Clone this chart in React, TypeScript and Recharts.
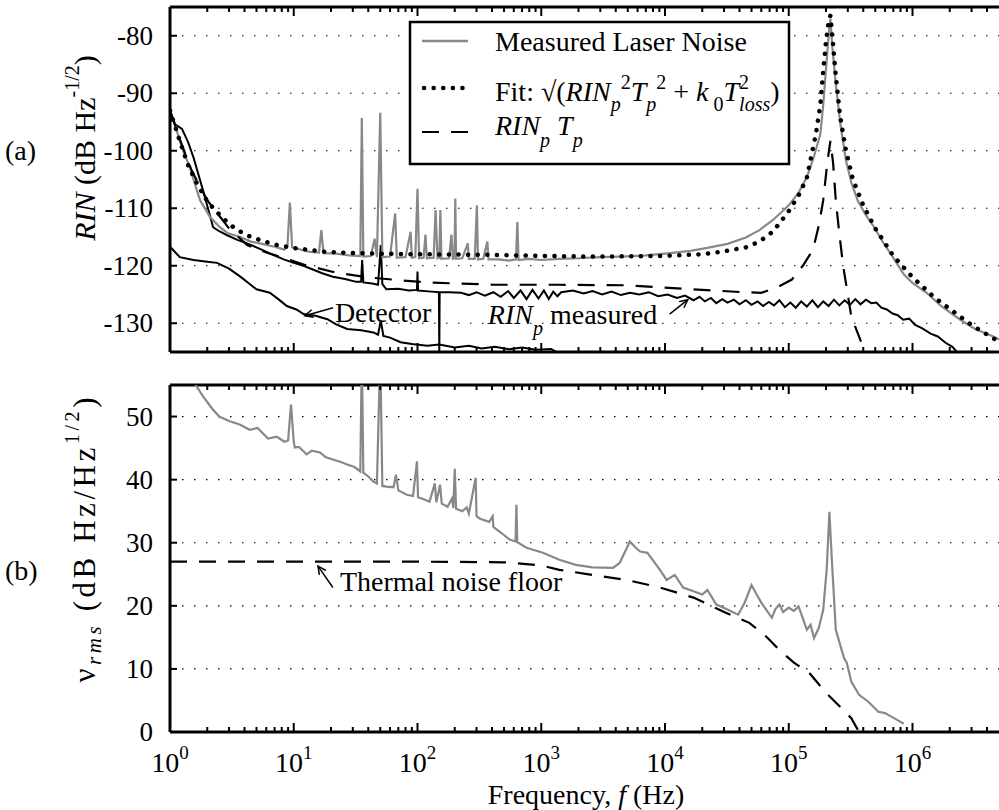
import React from "react";
import {
  LineChart,
  Line,
  XAxis,
  YAxis,
  CartesianGrid,
  ReferenceLine,
  ReferenceDot,
} from "recharts";

const FONT = '"Liberation Serif", "Times New Roman", serif';

// frequency ticks: decades and in-between multipliers
const decades = [1, 10, 100, 1e3, 1e4, 1e5, 1e6];
const multipliers = [1, 2, 3, 4, 5, 6, 7, 8, 9];
const xTicks = decades
  .flatMap((d) => multipliers.map((m) => m * d))
  .filter((v) => v < 4.5e6);

const rinTicks = [-130, -120, -110, -100, -90, -80];
const nuTicks = [0, 10, 20, 30, 40, 50];

// panel (a): [frequency Hz, RIN dB]
const laserNoise: [number, number][] = [
  [1, -93], [1.1, -95.5], [1.2, -98.3], [1.3, -100.5], [1.45, -102.9], [1.6, -106],
  [1.75, -108.6], [2.1, -111.5], [2.5, -113.2], [2.9, -114.3], [3.7, -115.0], [4.5, -115.8],
  [5.3, -116.1], [7.0, -116.7], [8.4, -117.2], [8.9, -116.5], [9.3, -109.0], [9.7, -116.8],
  [10.5, -117.0], [13.5, -117.6], [16.0, -117.7], [16.7, -113.8], [17.4, -117.8], [22, -117.9],
  [28, -118.2], [34.5, -118.3], [35.5, -94.3], [36.5, -118.4], [42, -118.3], [45, -115.3],
  [47, -118.5], [50, -93.4], [52, -118.5], [60, -118.4], [66, -110.9], [68, -118.6],
  [80, -118.5], [88, -114.1], [90, -118.6], [96, -118.5], [100, -106.6], [103, -118.7],
  [112, -118.6], [116, -114.6], [119, -118.7], [135, -118.6], [140, -110.3], [145, -118.7],
  [150, -118.6], [153, -110.3], [156, -118.8], [180, -118.7], [188, -114.6], [193, -118.8],
  [199, -118.7], [202, -108.3], [205, -118.8], [230, -118.7], [255, -116.1], [260, -118.8],
  [290, -118.8], [302, -109.5], [308, -118.9], [340, -118.8], [367, -115.8], [375, -118.9],
  [450, -118.9], [550, -119.1], [625, -118.9], [641, -112.4], [655, -119.0], [800, -118.8],
  [1000, -119.0], [1400, -118.8], [2000, -118.7], [3000, -118.5], [4500, -118.4], [7000, -118.2],
  [11000, -117.8], [16000, -117.4], [22000, -116.9], [32000, -116.2], [45000, -115.1], [58000, -113.8],
  [75000, -112.0], [100000, -109.5], [120000, -107.3], [140000, -104.6], [160000, -101], [180000, -97.1],
  [190000, -92], [200000, -85.7], [210000, -80], [217000, -77], [225000, -82], [240000, -88.4],
  [260000, -95], [290000, -101.7], [320000, -105.5], [360000, -108.6], [420000, -111.2], [490000, -113.3],
  [580000, -116.0], [690000, -118.4], [850000, -121.5], [1000000, -123], [1300000, -124.7], [1700000, -127],
  [2400000, -129.3], [3200000, -131], [4400000, -132.2], [5000000, -132.8],
];

const fitCurve: [number, number][] = [
  [1, -93], [1.2, -98.3], [1.4, -102.5], [1.65, -105.7], [2.0, -108.8], [2.4, -110.7],
  [3.0, -112.7], [3.5, -113.8], [4.3, -114.8], [5.3, -115.5], [7.0, -116.3], [9.9, -116.9],
  [14, -117.3], [18.6, -117.6], [30, -117.8], [50, -117.9], [100, -118.0], [400, -118.1],
  [1000, -118.3], [3000, -118.4], [10000, -118.3], [20000, -118.0], [30000, -117.5], [45000, -116.8],
  [58000, -115.8], [75000, -114], [100000, -110.5], [120000, -107.8], [140000, -104.7], [166000, -97],
  [180000, -92], [190000, -86], [200000, -81], [210000, -77.5], [217000, -76.5], [225000, -80],
  [240000, -87], [260000, -94], [290000, -100], [330000, -105], [400000, -109.5], [500000, -113.5],
  [700000, -118.3], [1000000, -122], [1500000, -125.5], [2000000, -127.5], [3000000, -130.3],
  [4400000, -132.5], [5000000, -133.2],
];

const rinPTp: [number, number][] = [
  [1, -93], [1.2, -98], [1.5, -103.5], [2, -108.6], [3, -113.5], [4.2, -116.4],
  [6, -117.7], [8.2, -118.6], [12, -119.8], [22, -121.2], [39, -122], [70, -122.5],
  [118, -122.9], [410, -123.3], [1400, -123.3], [4900, -123.4], [17000, -124.1], [43000, -124.6],
  [60000, -124.7], [80000, -123.8], [106000, -122.4], [130000, -120], [157000, -117.2], [175000, -113],
  [190000, -108.6], [205000, -102], [217000, -98.3], [228000, -102], [240000, -108.6], [255000, -114],
  [275000, -120], [300000, -125], [320000, -128.8], [390000, -133.6], [430000, -136],
];

const rinPMeasured: [number, number][] = [
  [1, -93], [1.1, -95.4], [1.25, -96.2], [1.4, -98.5], [1.55, -101.2], [1.85, -106.9],
  [2.23, -113.3], [2.5, -114.0], [2.9, -114.7], [3.5, -115.5], [4.2, -116.1], [5.5, -117.2],
  [6.8, -118.1], [8.3, -118.9], [10, -119.5], [12, -120.0], [14.4, -120.7], [17, -121.3],
  [20.7, -121.9], [26, -122.3], [32, -122.8], [35, -122.8], [35.7, -119], [36.5, -122.9],
  [43, -123.1], [48, -123.3], [50.5, -116.4], [52, -123.2], [56, -124.1], [70, -124.0],
  [85, -124.3], [99, -124.2], [100, -121], [101, -124.3], [130, -124.5], [149, -124.6],
  [150, -135.5], [151, -124.6], [180, -124.6], [225, -124.7], [260, -125.1], [300, -124.6],
  [350, -125.2], [410, -124.6], [470, -125.4], [540, -124.4], [600, -125.6], [680, -124.3],
  [760, -125.8], [850, -124.2], [950, -125.7], [1050, -124.3], [1150, -125.8], [1250, -124.5],
  [1350, -125.3], [1450, -124.6], [1800, -124.3], [2200, -124.8], [2600, -124.4], [3100, -125.0],
  [3700, -124.5], [4400, -125.1], [5200, -124.7], [6200, -125.0], [7400, -124.6], [8800, -125.3],
  [10500, -125.0], [12500, -125.6], [14500, -125.2], [17000, -126.0], [19000, -125.4], [21000, -126.2],
  [23500, -125.6], [26000, -126.5], [29000, -125.8], [32000, -126.4], [36000, -125.9], [40000, -126.7],
  [45000, -126.0], [50000, -126.8], [56000, -126.2], [62000, -127.0], [69000, -126.3], [76000, -126.9],
  [84000, -126.0], [93000, -127.2], [103000, -126.4], [114000, -127.3], [126000, -126.2], [140000, -127.1],
  [155000, -126.0], [172000, -127.2], [190000, -126.2], [210000, -127.0], [232000, -125.9], [256000, -126.9],
  [283000, -126.0], [312000, -126.8], [345000, -125.8], [380000, -126.7], [420000, -125.9], [465000, -126.5],
  [510000, -126.4], [560000, -127.3], [620000, -127.6], [690000, -128.3], [760000, -128.6], [840000, -129.4],
  [940000, -129.2], [1050000, -130.3], [1200000, -130.9], [1400000, -131.8], [1600000, -132.3],
  [1850000, -133.4], [2100000, -134.1], [2400000, -135.5],
];

const detector: [number, number][] = [
  [1, -116.7], [1.2, -118.5], [1.55, -119], [2.0, -119.3], [2.4, -119.5], [3.0, -120.5],
  [3.7, -121.9], [4.3, -123], [5.0, -124.1], [6.4, -124.7], [7.5, -125.8], [8.8, -127.0],
  [10.5, -127.6], [12, -128.4], [15, -128.7], [18.7, -129.3], [22, -130.2], [27, -131.0],
  [35, -131.2], [44, -131.6], [48, -132], [50.5, -129.5], [53, -132.2], [60, -132.5],
  [73, -133.3], [90, -133.6], [120, -133.9], [150, -133.7], [200, -134.2], [260, -133.9],
  [330, -134.4], [420, -134.1], [550, -134.5], [700, -134.2], [900, -134.6], [1200, -134.5],
  [1500, -135.6],
];

// panel (b): [frequency Hz, nu_rms dB]
const nuMeasured: [number, number][] = [
  [1, 60], [1.3, 57.5], [1.59, 55.2], [1.85, 53.2], [2.2, 51.2], [2.5, 50],
  [3.0, 49.3], [3.7, 48.7], [4.4, 47.9], [5.1, 48.2], [6.2, 46.5], [7.3, 46.8],
  [8.4, 46.0], [9.0, 46.2], [9.5, 51.9], [10.0, 46.0], [10.2, 45.1], [11, 45.2],
  [12.7, 44.0], [14, 44.6], [16.3, 44.3], [18, 43.6], [20.7, 43.2], [24, 42.8],
  [27, 42.4], [31, 42.0], [34.5, 41.3], [35.5, 60], [36.5, 41.1], [40, 40.5],
  [44, 39.7], [47, 39.4], [50, 60], [52, 39.0], [56, 38.9], [64, 38.8],
  [67, 40.8], [70, 38.3], [82, 37.6], [92, 37.4], [99, 42.9], [101, 37.2],
  [115, 36.8], [125, 36.5], [138, 39.4], [142, 36.4], [152, 39.2], [157, 36.2],
  [175, 35.7], [190, 37.0], [195, 35.5], [200, 41.7], [205, 35.4], [230, 35.0],
  [250, 35.6], [260, 34.6], [295, 40.3], [300, 34.2], [320, 33.8], [380, 33.3],
  [405, 34.2], [410, 32.5], [480, 31.5], [555, 30.5], [620, 30.2], [630, 36],
  [640, 30.1], [760, 29.2], [1030, 28.4], [1400, 27.3], [1900, 26.5], [2600, 26.1],
  [3800, 26], [4300, 26.8], [5200, 30.2], [5800, 29.2], [6300, 28.6], [7200, 28.4],
  [8000, 27.2], [9100, 25.7], [10300, 24.1], [12000, 24.9], [14000, 22.9], [17000, 22.3],
  [20000, 21.8], [22000, 22.5], [26000, 20.2], [32000, 19.4], [39000, 18.6], [44000, 20.5],
  [50000, 23.3], [55000, 21.8], [60000, 20.5], [73000, 18.1], [78000, 19.5], [84000, 20.2],
  [90000, 19.0], [100000, 19.7], [110000, 19.2], [120000, 19.9], [130000, 18.0], [140000, 16.2],
  [150000, 17.0], [160000, 14.9], [175000, 16.5], [190000, 19.4], [203000, 26], [213000, 34.9],
  [222000, 28], [240000, 16.2], [280000, 11.7], [294000, 11], [320000, 8], [370000, 5.9],
  [440000, 4.8], [530000, 3.2], [600000, 3.0], [680000, 2.4], [800000, 1.6], [850000, 1.3],
];

const thermalFloor: [number, number][] = [
  [1, 27], [100, 27], [500, 26.9], [1000, 26.4], [1400, 25.7], [2600, 24.9],
  [4900, 24.1], [9100, 22.9], [17000, 21.3], [31000, 18.9], [48000, 17.3], [66000, 15.1],
  [84000, 13], [110000, 11], [146000, 9.4], [200000, 6.2], [260000, 4], [320000, 2.2],
  [370000, 0],
];

const pts = (a: [number, number][]) => a.map(([f, v]) => ({ f, v }));

const TOP_PLOT_H = 345;
const BOT_PLOT_H = 347;

const isMajor = (v: number) => Math.abs(Math.log10(v) - Math.round(Math.log10(v))) < 1e-6;

const tickLines = (x: number, y: number, plotH: number, v: number) => {
  const len = isMajor(v) ? 9 : 5;
  return (
    <>
      <line x1={x} x2={x} y1={y} y2={y - len} stroke="#000" strokeWidth={2} />
      <line x1={x} x2={x} y1={y - plotH} y2={y - plotH + len} stroke="#000" strokeWidth={2} />
    </>
  );
};

const TopXTick = (p: any) => <g>{tickLines(p.x, p.y, TOP_PLOT_H, p.payload.value)}</g>;

const BottomXTick = (p: any) => {
  const v = p.payload.value;
  return (
    <g>
      {tickLines(p.x, p.y, BOT_PLOT_H, v)}
      {isMajor(v) && (
        <text x={p.x} y={p.y + 40} textAnchor="middle" fontSize={28} fontFamily={FONT} fill="#000">
          10
          <tspan dy={-13} fontSize={19}>
            {Math.round(Math.log10(v))}
          </tspan>
        </text>
      )}
    </g>
  );
};

const YTick = (p: any) => (
  <g>
    <line x1={p.x} x2={p.x + 7} y1={p.y} y2={p.y} stroke="#000" strokeWidth={2} />
    <text x={p.x - 17} y={p.y} textAnchor="end" dominantBaseline="central" fontSize={27} fontFamily={FONT} fill="#000">
      {p.payload.value}
    </text>
  </g>
);

const Arrow = (p: any) => {
  const { x1, y1, x2, y2 } = p;
  const ang = Math.atan2(y2 - y1, x2 - x1);
  const L = 9;
  const a1 = ang + Math.PI - 0.45;
  const a2 = ang + Math.PI + 0.45;
  return (
    <g stroke="#000" strokeWidth={1.5} fill="none">
      <line x1={x1} y1={y1} x2={x2} y2={y2} />
      <polyline
        points={`${x2 + L * Math.cos(a1)},${y2 + L * Math.sin(a1)} ${x2},${y2} ${x2 + L * Math.cos(a2)},${y2 + L * Math.sin(a2)}`}
      />
    </g>
  );
};

const Note = (text: React.ReactNode) => (p: any) => (
  <text x={p.cx} y={p.cy} dominantBaseline="central" fontSize={28} fontFamily={FONT} fill="#000">
    {text}
  </text>
);

const axisLine = { stroke: "#000", strokeWidth: 3 };
const grid = { stroke: "#000", strokeDasharray: "1.5 10.5", strokeWidth: 1.2 };

function Legend() {
  return (
    <g fontFamily={FONT} fill="#000">
      <rect x={410} y={22} width={379} height={142} fill="#fff" stroke="#000" strokeWidth={2.5} />
      <line x1={422} x2={468} y1={41} y2={41} stroke="#888" strokeWidth={2.5} />
      <text x={495} y={51} fontSize={28}>Measured Laser Noise</text>
      <line x1={424} x2={468} y1={88} y2={88} stroke="#000" strokeWidth={4.5} strokeLinecap="round" strokeDasharray="0.1 9.5" />
      <text x={495} y={101} fontSize={28}>
        Fit: √(<tspan fontStyle="italic">RIN</tspan>
        <tspan dy={10} fontSize={20} fontStyle="italic">p</tspan>
        <tspan dy={-22} fontSize={20}>2</tspan>
        <tspan dy={12} fontStyle="italic">T</tspan>
        <tspan dy={10} fontSize={20} fontStyle="italic">p</tspan>
        <tspan dy={-22} fontSize={20}>2</tspan>
        <tspan dy={12}> + </tspan>
        <tspan fontStyle="italic">k</tspan>
        <tspan dy={10} fontSize={20}> 0</tspan>
        <tspan dy={-10} fontStyle="italic">T</tspan>
        <tspan dy={-12} fontSize={20}>2</tspan>
        <tspan dx={-10} dy={22} fontSize={20} fontStyle="italic">loss</tspan>
        <tspan dy={-10}>)</tspan>
      </text>
      <line x1={422} x2={468} y1={132} y2={132} stroke="#000" strokeWidth={2.2} strokeDasharray="17 12" />
      <text x={495} y={135} fontSize={28}>
        <tspan fontStyle="italic">RIN</tspan>
        <tspan dy={12} fontSize={20} fontStyle="italic">p</tspan>
        <tspan dy={-12} fontStyle="italic"> T</tspan>
        <tspan dy={12} fontSize={20} fontStyle="italic">p</tspan>
      </text>
    </g>
  );
}

export default function App() {
  return (
    <div style={{ position: "absolute", left: 0, top: 0, width: 999, height: 810, background: "#fff" }}>
      <div style={{ position: "absolute", left: 0, top: 0 }}>
        <LineChart width={999} height={360} margin={{ top: 7, right: 0, bottom: 0, left: 0 }}>
          <CartesianGrid vertical={false} {...grid} />
          <XAxis
            dataKey="f"
            type="number"
            scale="log"
            domain={[1, 5e6]}
            allowDataOverflow
            ticks={xTicks}
            interval={0}
            tick={TopXTick}
            tickLine={false}
            tickSize={0}
            tickMargin={0}
            height={8}
            axisLine={axisLine}
          />
          <YAxis
            dataKey="v"
            type="number"
            domain={[-135, -75]}
            allowDataOverflow
            ticks={rinTicks}
            interval={0}
            width={170}
            tick={YTick}
            tickLine={false}
            tickSize={0}
            tickMargin={0}
            axisLine={axisLine}
          />
          <ReferenceLine y={-75} stroke="#000" strokeWidth={3} />
          <Line data={pts(detector)} dataKey="v" stroke="#000" strokeWidth={2} dot={false} isAnimationActive={false} />
          <Line data={pts(rinPMeasured)} dataKey="v" stroke="#000" strokeWidth={2} dot={false} isAnimationActive={false} />
          <Line data={pts(laserNoise)} dataKey="v" stroke="#888" strokeWidth={2.2} dot={false} isAnimationActive={false} />
          <Line data={pts(rinPTp)} dataKey="v" stroke="#000" strokeWidth={2.2} strokeDasharray="17 12" dot={false} isAnimationActive={false} />
          <Line
            data={pts(fitCurve)}
            dataKey="v"
            stroke="#000"
            strokeWidth={4.5}
            strokeLinecap="round"
            strokeDasharray="0.1 9.5"
            dot={false}
            isAnimationActive={false}
          />
          <ReferenceLine segment={[{ x: 20.8, y: -127.3 }, { x: 12.3, y: -128.7 }]} shape={Arrow} />
          <ReferenceDot x={21.5} y={-128.1} r={0} shape={Note("Detector")} />
          <ReferenceLine segment={[{ x: 10900, y: -128.4 }, { x: 15300, y: -125.9 }]} shape={Arrow} />
          <ReferenceDot
            x={370}
            y={-128.4}
            r={0}
            shape={Note(
              <>
                <tspan fontStyle="italic">RIN</tspan>
                <tspan dy={14} fontSize={20} fontStyle="italic">p</tspan>
                <tspan dy={-14}> measured</tspan>
              </>
            )}
          />
        </LineChart>
      </div>
      <div style={{ position: "absolute", left: 0, top: 378 }}>
        <LineChart width={999} height={432} margin={{ top: 7, right: 0, bottom: 0, left: 0 }}>
          <CartesianGrid vertical={false} {...grid} />
          <XAxis
            dataKey="f"
            type="number"
            scale="log"
            domain={[1, 5e6]}
            allowDataOverflow
            ticks={xTicks}
            interval={0}
            tick={BottomXTick}
            tickLine={false}
            tickSize={0}
            tickMargin={0}
            height={78}
            axisLine={axisLine}
          />
          <YAxis
            dataKey="v"
            type="number"
            domain={[0, 55]}
            allowDataOverflow
            ticks={nuTicks}
            interval={0}
            width={170}
            tick={YTick}
            tickLine={false}
            tickSize={0}
            tickMargin={0}
            axisLine={axisLine}
          />
          <ReferenceLine y={55} stroke="#000" strokeWidth={3} />
          <Line data={pts(thermalFloor)} dataKey="v" stroke="#000" strokeWidth={2.2} strokeDasharray="17 12" dot={false} isAnimationActive={false} />
          <Line data={pts(nuMeasured)} dataKey="v" stroke="#888" strokeWidth={2.2} dot={false} isAnimationActive={false} />
          <ReferenceLine segment={[{ x: 20.7, y: 22.9 }, { x: 15.7, y: 26.3 }]} shape={Arrow} />
          <ReferenceDot x={23.6} y={23.8} r={0} shape={Note("Thermal noise floor")} />
        </LineChart>
      </div>
      <svg width={999} height={810} style={{ position: "absolute", left: 0, top: 0, pointerEvents: "none" }}>
        <Legend />
        <g fontFamily={FONT} fill="#000">
          <text x={5} y={160} fontSize={28}>(a)</text>
          <text x={5} y={580} fontSize={28}>(b)</text>
          <text transform="translate(84,148) rotate(-90)" textAnchor="middle" dominantBaseline="central" fontSize={30}>
            <tspan fontStyle="italic">RIN</tspan>
            <tspan> (dB Hz</tspan>
            <tspan dy={-12} fontSize={20}>-1/2</tspan>
            <tspan dy={12}>)</tspan>
          </text>
          <text
            transform="translate(84,540) rotate(-90)"
            textAnchor="middle"
            dominantBaseline="central"
            fontSize={31}
            textLength={285}
            lengthAdjust="spacing"
          >
            <tspan>ν</tspan>
            <tspan dy={10} fontSize={21} fontStyle="italic">rms</tspan>
            <tspan dy={-10}> (dB Hz/Hz</tspan>
            <tspan dy={-12} fontSize={20}>1/2</tspan>
            <tspan dy={12}>)</tspan>
          </text>
          <text x={586} y={804} textAnchor="middle" fontSize={28}>
            Frequency, <tspan fontStyle="italic">f</tspan> (Hz)
          </text>
        </g>
      </svg>
    </div>
  );
}
